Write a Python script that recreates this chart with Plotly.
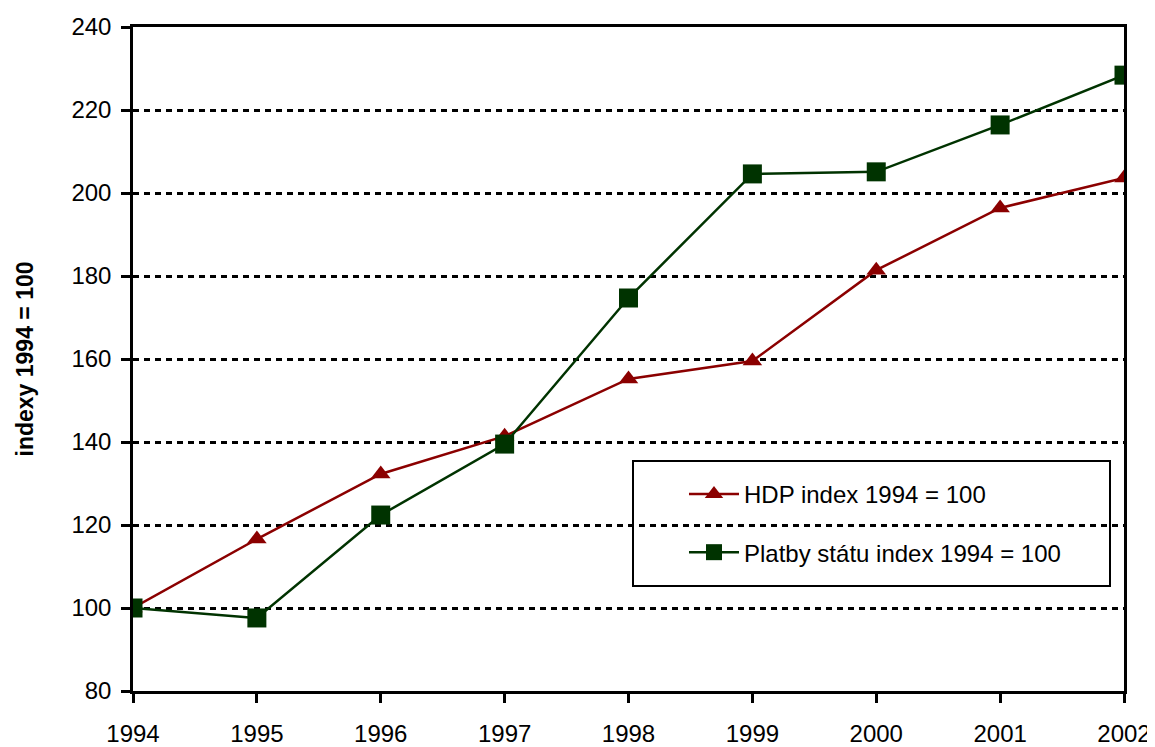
import plotly.graph_objects as go

years = [1994, 1995, 1996, 1997, 1998, 1999, 2000, 2001, 2002]
hdp = [100.0, 116.6, 132.3, 141.4, 155.2, 159.5, 181.4, 196.4, 203.6]
platby = [100.0, 97.6, 122.4, 139.5, 174.7, 204.6, 205.1, 216.4, 228.4]
y_ticks = [80, 100, 120, 140, 160, 180, 200, 220, 240]

FONT = "Liberation Sans, Arial, sans-serif"
RED = "#8B0000"
GREEN = "#003300"

fig = go.Figure()
fig.add_trace(go.Scatter(
    x=years, y=hdp, mode="lines+markers", name="HDP index 1994 = 100",
    legendgroup="a",
    line=dict(color=RED, width=2.5),
    marker=dict(symbol="triangle-up", size=17, color=RED),
))
fig.add_trace(go.Scatter(
    x=years, y=platby, mode="lines+markers", name="Platby státu index 1994 = 100",
    legendgroup="b",
    line=dict(color=GREEN, width=2.5),
    marker=dict(symbol="square", size=19, color=GREEN),
))

# page body has an 8px margin, so the figure is drawn 8px smaller and offset
fig.update_layout(
    width=1147, height=739,
    margin=dict(l=125, r=31, t=19, b=56, autoexpand=False),
    paper_bgcolor="white", plot_bgcolor="white",
    font=dict(family=FONT, size=24, color="black"),
    showlegend=True,
    legend=dict(
        x=0.556, y=0.33, xanchor="left", yanchor="top",
        bgcolor="rgba(0,0,0,0)", borderwidth=0,
        font=dict(family=FONT, size=24, color="black"),
        traceorder="grouped", tracegroupgap=24, itemwidth=50,
    ),
    shapes=[dict(
        type="rect", xref="paper", yref="paper",
        x0=(633 - 133) / 991, x1=(1110 - 133) / 991,
        y0=(691 - 586) / 664, y1=(691 - 461) / 664,
        line=dict(color="black", width=2), fillcolor="white", layer="below",
    )],
)

fig.update_xaxes(
    range=[1994, 2002], tickmode="array", tickvals=years,
    ticktext=[str(y) for y in years],
    showgrid=False, zeroline=False, automargin=False,
    showline=True, linecolor="black", linewidth=2.5, mirror=True,
    ticks="outside", ticklen=9, tickwidth=2.5, tickcolor="black",
    tickfont=dict(family=FONT, size=24), ticklabelstandoff=10,
)
fig.update_yaxes(
    range=[80, 240], tickmode="array", tickvals=y_ticks,
    showgrid=True, gridcolor="black", gridwidth=2.5, griddash="6px,5px",
    zeroline=False, automargin=False,
    showline=True, linecolor="black", linewidth=2.5, mirror=True,
    ticks="outside", ticklen=9, tickwidth=2.5, tickcolor="black",
    tickfont=dict(family=FONT, size=24), ticklabelstandoff=5,
    title=dict(text="<b>indexy 1994 = 100</b>", font=dict(family=FONT, size=23), standoff=32),
)

fig.write_html("out.html")
